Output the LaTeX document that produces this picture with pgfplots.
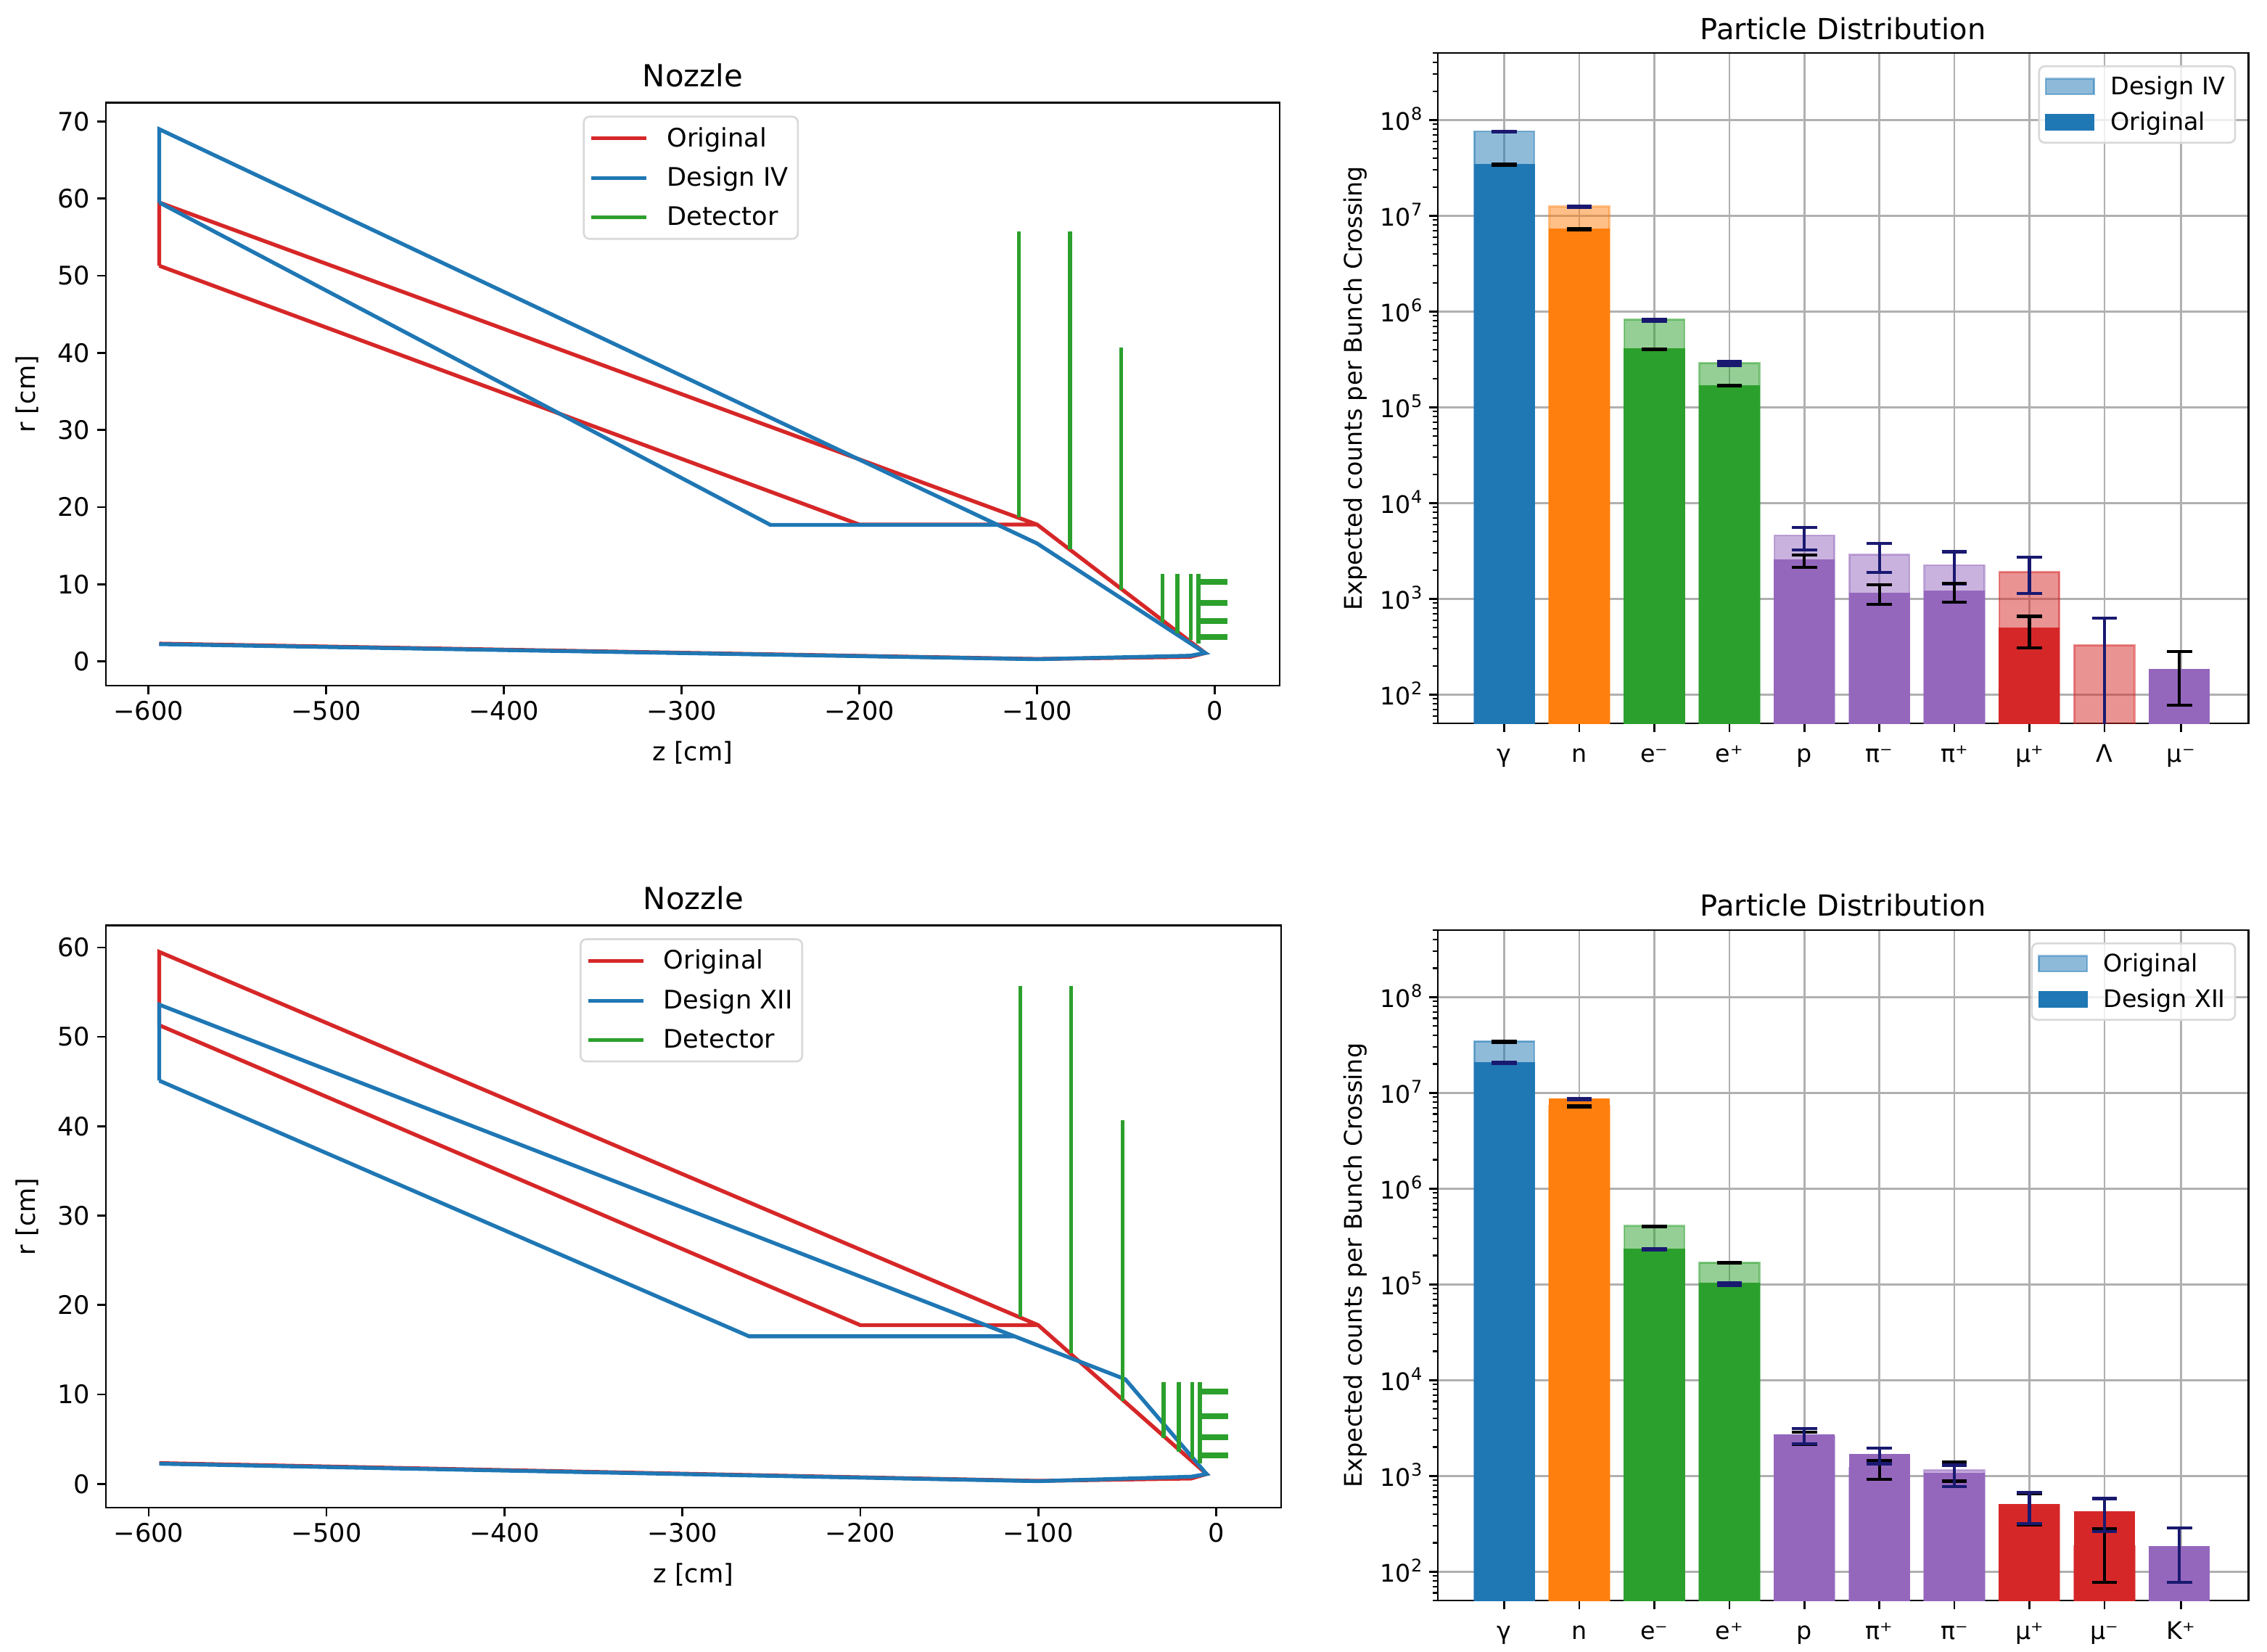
\documentclass[border=0pt]{standalone}
\usepackage{fontspec}
\setmainfont{DejaVu Sans}
\usepackage{pgfplots}
\usepackage{pgfplotstable}
\pgfplotsset{compat=1.18}

\definecolor{tabblue}{HTML}{1F77B4}
\definecolor{taborange}{HTML}{FF7F0E}
\definecolor{tabgreen}{HTML}{2CA02C}
\definecolor{tabred}{HTML}{D62728}
\definecolor{tabpurple}{HTML}{9467BD}
\definecolor{errnavy}{HTML}{191970}
\definecolor{gridgray}{HTML}{B0B0B0}
\definecolor{legframe}{HTML}{D9D9D9}

\newcommand{\txt}{\fontsize{13.2}{15}\selectfont}
\newcommand{\txtr}{\fontsize{12.5}{15}\selectfont}
\newcommand{\tenp}[1]{10\raisebox{0.42em}{\fontsize{9}{9}\selectfont #1}}

% nozzle outlines, z r
\pgfplotstableread{
z r
-594 51.3
-594 59.5
-100 17.75
-5.4 1.1
-14 0.6
-100 0.33
-594 2.32
nan nan
-594 51.3
-200 17.75
-100 17.75
}\origshape
\pgfplotstableread{
z r
-594 59.5
-594 69
-100 15.3
-5.4 1.1
-14 0.75
-100 0.3
-594 2.25
nan nan
-594 59.5
-250 17.7
-122.5 17.7
}\designiv
\pgfplotstableread{
z r
-594 45.1
-594 53.6
-51.1 11.7
-5.4 1.1
-14 0.8
-100 0.3
-594 2.25
nan nan
-594 45.1
-262.5 16.5
-113.7 16.5
}\designxii
\pgfplotstableread{
z r
-110.2 18.7
-110.2 55.7
nan nan
-81.5 14.6
-81.5 55.7
nan nan
-52.7 9.3
-52.7 40.7
nan nan
-29.5 5.1
-29.5 11.4
nan nan
-21 3.6
-21 11.4
nan nan
-13.4 2.8
-13.4 11.4
nan nan
-9.2 2.3
-9.2 11.4
}\detvert
\pgfplotstableread{
z r
-9.2 10.35
6.9 10.35
nan nan
-9.2 7.6
6.9 7.6
nan nan
-9.2 5.25
6.9 5.25
nan nan
-9.2 3.2
6.9 3.2
}\dethoriz

% bar tables: position, value, upper and lower error end
\pgfplotstableread{
x y hi lo
0 7.6e7 7.62e7 7.45e7
1 1.25e7 1.255e7 1.23e7
2 8.25e5 8.3e5 7.9e5
3 2.9e5 2.99e5 2.74e5
4 4595 5560 3220
5 2897 3811 1873
6 2244 3094 1417
7 1906 2717 1136
8 327 628 1
}\topdesign
\pgfplotstableread{
x y hi lo
0 3.45e7 3.47e7 3.37e7
1 7.3e6 7.32e6 7.15e6
2 4.07e5 4.08e5 3.98e5
3 1.69e5 1.70e5 1.66e5
4 2564 2848 2130
5 1150 1393 880
6 1205 1442 916
7 497 655 309
9 183 283 77
}\toporig
\pgfplotstableread{
x y hi lo
0 3.45e7 3.47e7 3.37e7
1 7.3e6 7.32e6 7.15e6
2 4.07e5 4.08e5 3.98e5
3 1.69e5 1.70e5 1.66e5
4 2564 2848 2130
5 1205 1451 916
6 1150 1393 880
7 497 655 309
8 183 283 77
}\botorig
\pgfplotstableread{
x y hi lo
0 2.08e7 2.09e7 2.03e7
1 8.6e6 8.65e6 8.4e6
2 2.34e5 2.36e5 2.30e5
3 1.02e5 1.03e5 9.7e4
4 2675 3126 2154
5 1688 1951 1337
6 1060 1291 778
7 503 675 318
8 423 580 262
9 183 285 77
}\botdesign

\pgfplotsset{
  nozzle/.style={
    scale only axis,
    title={Nozzle},
    title style={font=\fontsize{15.7}{18}\selectfont, yshift=-1.5pt},
    xlabel={z [cm]}, ylabel={r [cm]},
    xlabel style={yshift=-3.7pt},
    ylabel style={yshift=3pt},
    xmin=-624, xmax=36.5,
    xtick={-600,-500,-400,-300,-200,-100,0},
    xticklabels={−600,−500,−400,−300,−200,−100,0},
    ticklabel style={font=\txt},
    label style={font=\txt},
    xtick pos=bottom, ytick pos=left,
    tick align=outside,
    major tick length=4.6pt,
    every tick/.style={black,line width=1pt},
    axis line style={line width=1pt},
    legend cell align=left,
    legend image code/.code={\draw[##1,sharp corners] (0pt,0pt) -- (28.5pt,0pt);},
    legend style={font=\txt, draw=legframe, line width=1pt, rounded corners=3pt,
      fill opacity=0.8, text opacity=1, draw opacity=1, anchor=north west,
      inner xsep=3pt, inner ysep=3.5pt, row sep=5pt},
    /tikz/every odd column/.append style={column sep=7.5pt},
    unbounded coords=jump,
  },
  nline/.style={line width=2pt, line join=miter, no marks},
  particles/.style={
    scale only axis,
    width=419pt, height=346.5pt,
    title={Particle Distribution},
    title style={font=\fontsize{15}{18}\selectfont, yshift=-2.6pt},
    ylabel={Expected counts per Bunch Crossing},
    ymin=50, ymax=5e8,
    xmin=-0.887, xmax=9.92,
    ybar, bar width=0.8, bar shift=0pt,
    xtick={0,1,2,3,4,5,6,7,8,9.02},
    ytick={1e2,1e3,1e4,1e5,1e6,1e7,1e8},
    yticklabels={\tenp{2},\tenp{3},\tenp{4},\tenp{5},\tenp{6},\tenp{7},\tenp{8}},
    minor ytick={50,60,70,80,90,200,300,400,500,600,700,800,900,
      2e3,3e3,4e3,5e3,6e3,7e3,8e3,9e3,2e4,3e4,4e4,5e4,6e4,7e4,8e4,9e4,
      2e5,3e5,4e5,5e5,6e5,7e5,8e5,9e5,2e6,3e6,4e6,5e6,6e6,7e6,8e6,9e6,
      2e7,3e7,4e7,5e7,6e7,7e7,8e7,9e7,2e8,3e8,4e8,5e8},
    ticklabel style={font=\txtr},
    xticklabel style={yshift=-1.5pt},
    yticklabel style={yshift=-1.5pt},
    typeset ticklabels with strut,
    label style={font=\txtr},
    xtick pos=bottom, ytick pos=left,
    tick align=outside,
    major tick length=4.6pt, minor tick length=2.6pt,
    every tick/.style={black,line width=1pt},
    every minor tick/.style={black,line width=0.8pt},
    axis line style={line width=1pt},
    grid=major,
    grid style={gridgray,line width=1pt},
    legend cell align=left,
    legend style={font=\txtr, draw=legframe, line width=1pt, rounded corners=3pt,
      fill opacity=0.8, text opacity=1, draw opacity=1,
      inner xsep=3pt, inner ysep=3pt, row sep=3.5pt, anchor=north east},
    /tikz/every odd column/.append style={column sep=6pt},
  },
  faded/.style={fill opacity=0.5, draw opacity=0.5, line width=1pt},
  solidbar/.style={fill opacity=1, draw opacity=1, line width=0.5pt},
  barlegend/.style={legend image code/.code={\draw[##1,sharp corners] (0pt,-4pt) rectangle (25pt,4pt);}},
}

% one table drawn as bars, coloured by position
\newcommand{\drawbars}[3]{%
  \addplot[#2, fill=tabblue, draw=tabblue, restrict x to domain=-0.5:0.5, barlegend]
    table[x=x,y=y] {#1};
  \addlegendentry{#3}
  \addplot[#2, forget plot, fill=taborange, draw=taborange, restrict x to domain=0.5:1.5] table[x=x,y=y] {#1};
  \addplot[#2, forget plot, fill=tabgreen, draw=tabgreen, restrict x to domain=1.5:3.5] table[x=x,y=y] {#1};
  \addplot[#2, forget plot, fill=tabpurple, draw=tabpurple, restrict x to domain=3.5:6.5] table[x=x,y=y] {#1};
  \addplot[#2, forget plot, fill=tabred, draw=tabred, restrict x to domain=6.5:8.5] table[x=x,y=y] {#1};
  \addplot[#2, forget plot, fill=tabpurple, draw=tabpurple, restrict x to domain=8.5:9.5] table[x=x,y=y] {#1};
}
% error bars of one table
\newcommand{\drawerrs}[2]{%
  \addplot[forget plot, draw=none, fill=none,
    error bars/.cd, y dir=both, y explicit,
    error bar style={draw=#2, line width=1.6pt},
    error mark options={rotate=90, draw=#2, mark size=6.5pt, line width=1.6pt}]
    table[x=x, y=y,
      y error plus expr=\thisrow{hi}-\thisrow{y},
      y error minus expr=\thisrow{y}-\thisrow{lo}] {#1};
}

\begin{document}
\begin{tikzpicture}
\useasboundingbox (0pt,0pt) rectangle (1171.875pt,-853.875pt);

\begin{axis}[nozzle, at={(54.75pt,-354.4pt)}, width=606.75pt, height=301.3pt,
    ymin=-3.13, ymax=72.43, ytick={0,10,20,30,40,50,60,70},
    yticklabels={0,10,20,30,40,50,60,70},
    legend style={at={(0.4063,0.9778)}}]
\addplot[nline, tabred] table[x=z,y=r] {\origshape};
\addlegendentry{Original}
\addplot[nline, tabblue] table[x=z,y=r] {\designiv};
\addlegendentry{Design IV}
\addplot[nline, tabgreen] table[x=z,y=r] {\detvert};
\addlegendentry{Detector}
\addplot[forget plot, no marks, tabgreen, line width=3pt] table[x=z,y=r] {\dethoriz};
\end{axis}

\begin{axis}[nozzle, at={(54.75pt,-779.25pt)}, width=607.5pt, height=300.9pt,
    ymin=-2.66, ymax=62.46, ytick={0,10,20,30,40,50,60},
    yticklabels={0,10,20,30,40,50,60},
    legend style={at={(0.403,0.978)}}]
\addplot[nline, tabred] table[x=z,y=r] {\origshape};
\addlegendentry{Original}
\addplot[nline, tabblue] table[x=z,y=r] {\designxii};
\addlegendentry{Design XII}
\addplot[nline, tabgreen] table[x=z,y=r] {\detvert};
\addlegendentry{Detector}
\addplot[forget plot, no marks, tabgreen, line width=3pt] table[x=z,y=r] {\dethoriz};
\end{axis}

\begin{semilogyaxis}[particles, at={(743.25pt,-373.9pt)},
    xticklabels={γ,n,e⁻,e⁺,p,π⁻,π⁺,μ⁺,Λ,μ⁻},
    legend style={at={(0.9848,0.9816)}}]
\drawbars{\topdesign}{faded}{Design IV}
\drawbars{\toporig}{solidbar}{Original}
\drawerrs{\topdesign}{errnavy}
\drawerrs{\toporig}{black}
\end{semilogyaxis}

\begin{semilogyaxis}[particles, at={(743.25pt,-827.25pt)},
    xticklabels={γ,n,e⁻,e⁺,p,π⁺,π⁻,μ⁺,μ⁻,K⁺},
    legend style={at={(0.9848,0.9816)}}]
\drawbars{\botorig}{faded}{Original}
\drawbars{\botdesign}{solidbar}{Design XII}
\drawerrs{\botorig}{black}
\drawerrs{\botdesign}{errnavy}
\end{semilogyaxis}
\end{tikzpicture}
\end{document}
